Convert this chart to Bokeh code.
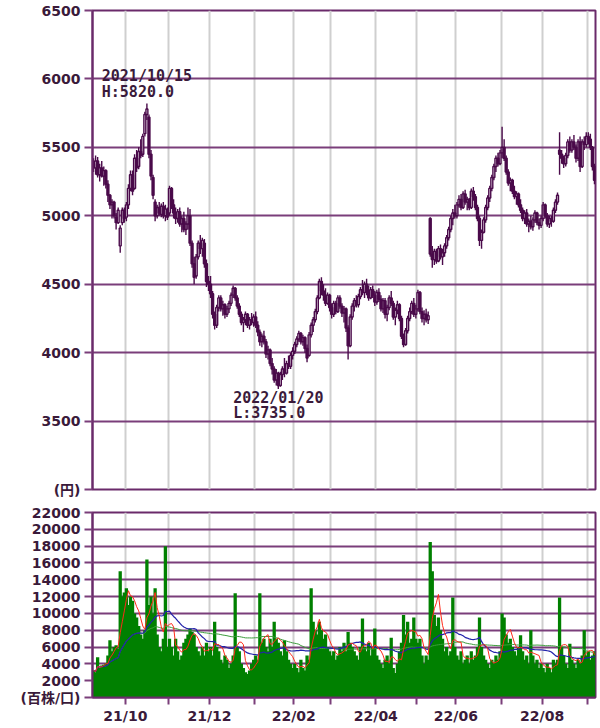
import numpy as np
import pandas as pd
from bokeh.plotting import figure
from bokeh.layouts import column
from bokeh.models import FixedTicker, ColumnDataSource, Range1d
from bokeh.core.properties import value
from bokeh.embed import file_html
from bokeh.resources import INLINE

# ---------------- data ----------------
# trading days per month shown: Sep-21 (partial), Oct-21 ... Aug-22, Sep-22 (partial)
month_days = [16, 21, 20, 22, 19, 18, 22, 20, 19, 22, 20, 22, 4]
month_labels = ["21/10", "21/11", "21/12", "22/01", "22/02", "22/03",
                "22/04", "22/05", "22/06", "22/07", "22/08", "22/09"]
shown_labels = ["21/10", "21/12", "22/02", "22/04", "22/06", "22/08"]

price_ticks = [3000, 3500, 4000, 4500, 5000, 5500, 6000, 6500]
volume_ticks = [0, 2000, 4000, 6000, 8000, 10000, 12000, 14000, 16000, 18000, 20000, 22000]

high_date = "2021/10/15"
low_date = "2022/01/20"

open_ = [
    5380, 5350, 5400, 5300, 5350, 5290, 5330, 5230, 5150, 5080, 5100, 4990, 4950, 4780, 4950, 5040,
    4990, 5080, 5200, 5300, 5200, 5420, 5360, 5470, 5450, 5600, 5740, 5720, 5450, 5280, 5100, 5000, 5060, 5010, 5070, 5000, 5040,
    5020, 5200, 5080, 5020, 4980, 5030, 4940, 4980, 4900, 4940, 5000, 4800, 4650, 4560, 4700, 4800, 4760, 4800, 4650, 4520,
    4500, 4430, 4280, 4200, 4330, 4400, 4320, 4350, 4280, 4320, 4360, 4420, 4470, 4400, 4340, 4280, 4220, 4240, 4280, 4200, 4240, 4220,
    4260, 4200, 4150, 4080, 4120, 4080, 3990, 4020, 3920, 3880, 3800, 3850, 3760, 3840, 3880, 3850, 3920, 3900, 3980,
    4010, 4060, 4100, 4140, 4080, 4110, 4030, 3980, 4130, 4200, 4240, 4300, 4400, 4520, 4450, 4420, 4360, 4420,
    4330, 4280, 4360, 4300, 4400, 4340, 4290, 4320, 4180, 4050, 4260, 4340, 4380, 4350, 4410, 4460, 4440, 4500, 4450, 4400, 4460, 4420,
    4370, 4440, 4390, 4320, 4380, 4280, 4330, 4400, 4360, 4260, 4310, 4350, 4250, 4120, 4060, 4160, 4250, 4300, 4360, 4280,
    4320, 4440, 4300, 4250, 4280, 4240, 4980, 4720, 4680, 4740, 4670, 4760, 4700, 4730, 4780, 4840, 4900, 4980, 5020,
    5000, 5080, 5120, 5060, 5160, 5100, 5120, 5060, 5180, 5140, 5060, 4980, 4820, 4880, 4970, 5060, 5130, 5200, 5280, 5360, 5420, 5380,
    5460, 5500, 5420, 5320, 5240, 5260, 5180, 5140, 5160, 5080, 5040, 4980, 5020, 4940, 4960, 4920, 4970, 5020, 4950, 4930,
    4980, 5080, 5000, 4940, 4980, 4960, 5040, 5100, 5480, 5450, 5420, 5380, 5440, 5540, 5480, 5540, 5500, 5420, 5540, 5360, 5540, 5520,
    5580, 5560, 5500, 5360,
]
high = [
    5420, 5440, 5430, 5380, 5400, 5360, 5340, 5260, 5160, 5120, 5110, 5020, 5060, 4930, 5060, 5060,
    5100, 5230, 5330, 5330, 5450, 5480, 5500, 5560, 5600, 5760, 5820, 5740, 5480, 5300, 5120, 5080, 5100, 5090, 5100, 5080, 5060,
    5220, 5210, 5120, 5060, 5050, 5060, 5000, 5030, 4960, 5060, 5050, 4820, 4700, 4720, 4820, 4860, 4840, 4830, 4680, 4560,
    4560, 4450, 4300, 4350, 4420, 4420, 4380, 4360, 4340, 4380, 4440, 4490, 4480, 4420, 4360, 4300, 4260, 4300, 4290, 4260, 4290, 4280,
    4300, 4230, 4170, 4140, 4160, 4100, 4050, 4030, 3960, 3900, 3880, 3860, 3860, 3900, 3960, 3940, 3980, 4000, 4040,
    4080, 4120, 4160, 4150, 4130, 4120, 4060, 4150, 4220, 4260, 4320, 4420, 4540, 4550, 4500, 4470, 4440, 4430,
    4360, 4380, 4380, 4420, 4420, 4360, 4340, 4330, 4200, 4280, 4360, 4400, 4420, 4430, 4480, 4530, 4520, 4540, 4490, 4480, 4490, 4450,
    4460, 4470, 4420, 4400, 4400, 4350, 4420, 4450, 4380, 4330, 4380, 4360, 4270, 4140, 4180, 4270, 4330, 4380, 4400, 4350,
    4460, 4450, 4330, 4310, 4320, 4300, 4990, 4780, 4760, 4760, 4780, 4790, 4760, 4800, 4860, 4920, 5000, 5050, 5080,
    5100, 5150, 5160, 5180, 5190, 5140, 5130, 5200, 5210, 5160, 5080, 5000, 4900, 4990, 5080, 5150, 5220, 5300, 5380, 5440, 5460, 5480,
    5650, 5560, 5440, 5340, 5280, 5270, 5220, 5180, 5170, 5120, 5060, 5040, 5050, 4980, 5000, 4990, 5040, 5030, 4980, 5000,
    5100, 5090, 5020, 5000, 5000, 5060, 5120, 5170, 5610, 5480, 5440, 5460, 5560, 5580, 5560, 5590, 5520, 5560, 5580, 5560, 5580, 5610,
    5610, 5600, 5510, 5380,
]
low = [
    5320, 5300, 5280, 5250, 5280, 5220, 5200, 5100, 5050, 4980, 4980, 4900, 4940, 4730, 4930, 4950,
    4960, 5050, 5180, 5150, 5190, 5320, 5340, 5420, 5430, 5580, 5700, 5420, 5260, 5120, 4960, 4980, 5000, 4990, 4980, 4960, 4970,
    5000, 5050, 4980, 4940, 4950, 4920, 4880, 4880, 4860, 4900, 4780, 4620, 4500, 4540, 4680, 4720, 4700, 4620, 4480, 4450,
    4400, 4250, 4170, 4180, 4300, 4300, 4270, 4250, 4260, 4290, 4340, 4400, 4380, 4320, 4260, 4200, 4150, 4200, 4180, 4170, 4200, 4190,
    4180, 4120, 4050, 4040, 4060, 3960, 3950, 3900, 3840, 3780, 3760, 3735, 3750, 3800, 3820, 3840, 3880, 3880, 3950,
    3990, 4040, 4080, 4060, 4050, 4000, 3930, 3970, 4110, 4150, 4220, 4280, 4390, 4420, 4380, 4340, 4350, 4300,
    4250, 4260, 4280, 4290, 4320, 4260, 4220, 4150, 3950, 4040, 4240, 4300, 4330, 4330, 4390, 4420, 4400, 4420, 4380, 4390, 4400, 4340,
    4350, 4370, 4300, 4290, 4250, 4230, 4310, 4340, 4240, 4200, 4280, 4230, 4100, 4040, 4050, 4140, 4230, 4280, 4260, 4250,
    4300, 4280, 4220, 4200, 4220, 4210, 4700, 4620, 4640, 4650, 4660, 4680, 4640, 4700, 4760, 4820, 4880, 4930, 4980,
    4980, 5060, 5040, 5050, 5080, 5040, 5040, 5050, 5110, 5040, 4960, 4780, 4760, 4870, 4950, 5040, 5100, 5180, 5260, 5320, 5360, 5370,
    5420, 5400, 5300, 5220, 5180, 5160, 5120, 5080, 5060, 5020, 4960, 4940, 4920, 4880, 4900, 4890, 4950, 4930, 4900, 4910,
    4960, 4980, 4920, 4910, 4920, 4950, 5020, 5080, 5300, 5380, 5350, 5360, 5420, 5460, 5460, 5480, 5390, 5400, 5320, 5350, 5480, 5500,
    5520, 5480, 5330, 5230,
]
close = [
    5350, 5400, 5300, 5350, 5290, 5330, 5230, 5150, 5080, 5100, 5000, 4950, 5040, 4910, 5040, 4980,
    5080, 5200, 5300, 5180, 5420, 5350, 5470, 5440, 5580, 5740, 5780, 5450, 5290, 5150, 5000, 5060, 5020, 5070, 5000, 5050, 4990,
    5200, 5080, 5020, 4980, 5030, 4940, 4980, 4900, 4940, 5000, 4800, 4650, 4550, 4700, 4800, 4760, 4820, 4650, 4520, 4500,
    4430, 4280, 4200, 4330, 4400, 4320, 4350, 4280, 4320, 4360, 4420, 4470, 4400, 4340, 4280, 4220, 4240, 4280, 4200, 4240, 4220, 4260,
    4200, 4150, 4080, 4120, 4080, 3990, 4020, 3920, 3880, 3800, 3850, 3760, 3840, 3880, 3850, 3920, 3900, 3980, 4010,
    4060, 4100, 4140, 4080, 4110, 4030, 3960, 4130, 4200, 4240, 4300, 4400, 4520, 4450, 4420, 4360, 4420, 4330,
    4280, 4360, 4300, 4400, 4340, 4290, 4320, 4180, 4050, 4260, 4340, 4380, 4350, 4410, 4460, 4440, 4500, 4450, 4400, 4460, 4420, 4370,
    4440, 4390, 4320, 4380, 4280, 4330, 4400, 4360, 4260, 4310, 4350, 4250, 4120, 4060, 4160, 4250, 4300, 4360, 4280, 4320,
    4440, 4300, 4250, 4280, 4240, 4270, 4720, 4680, 4740, 4670, 4760, 4700, 4730, 4780, 4840, 4900, 4980, 5020, 5000,
    5080, 5120, 5060, 5160, 5100, 5120, 5060, 5180, 5140, 5060, 4980, 4820, 4880, 4970, 5060, 5130, 5200, 5280, 5360, 5420, 5380, 5460,
    5500, 5420, 5320, 5240, 5260, 5180, 5140, 5160, 5080, 5040, 4980, 5020, 4940, 4960, 4920, 4970, 5020, 4950, 4930, 4980,
    5080, 5000, 4940, 4980, 4960, 5040, 5100, 5150, 5450, 5420, 5380, 5440, 5540, 5480, 5540, 5500, 5420, 5540, 5360, 5540, 5520, 5580,
    5560, 5500, 5360, 5260,
]
volume = [
    3200, 3000, 4800, 3500, 3800, 3900, 4000, 5000, 6800, 5500, 6000, 6200, 5800, 15000, 12000, 12500,
    13000, 11000, 12000, 11500, 10000, 9500, 8500, 7500, 7000, 8000, 16400, 11000, 12000, 10000, 13000, 7500, 6000, 5500, 7000, 18000, 6000,
    7000, 6000, 5000, 7000, 5500, 4500, 5000, 6500, 7000, 7500, 8200, 7800, 7500, 6000, 5500, 5000, 6000, 5000, 6500, 5500,
    6000, 5000, 9000, 6000, 5500, 4500, 4000, 5000, 4500, 3500, 4000, 5000, 12400, 6000, 5500, 4000, 3500, 3000, 2800, 3200, 4000, 4500,
    5000, 4500, 12400, 6500, 7000, 6000, 5500, 7000, 6000, 9000, 7000, 6500, 5500, 5000, 6800, 5500, 4500, 4000, 3500,
    4000, 3500, 3000, 4500, 3500, 3200, 5000, 4500, 13000, 9000, 8000, 7500, 9000, 8000, 7000, 7500, 6000, 5500,
    5000, 5500, 4500, 5000, 6000, 5500, 6500, 5500, 7800, 6500, 6000, 5500, 5000, 4500, 6000, 9400, 6000, 5500, 6500, 5000, 6000, 8200,
    5000, 4500, 4000, 3500, 4500, 5000, 4000, 7100, 3500, 2900, 4000, 5500, 6500, 9800, 7500, 9000, 6500, 7000, 9500, 7000,
    6500, 7000, 5000, 4000, 5000, 4500, 18500, 15000, 9800, 8500, 9500, 8000, 7000, 5500, 6000, 5000, 5500, 11900, 6000,
    5000, 4500, 5500, 4000, 4500, 5000, 4000, 5500, 4500, 5000, 6000, 9500, 6000, 5000, 4500, 4000, 3500, 4500, 4000, 5000, 4500, 5500,
    10000, 9500, 7500, 6500, 7000, 6000, 5500, 5000, 6000, 7400, 5500, 4500, 5000, 4000, 8000, 5000, 4000, 4500, 3500, 4000,
    3500, 3000, 4000, 3500, 3000, 4500, 4000, 4500, 11900, 6000, 5000, 4000, 3500, 6400, 4500, 4000, 3500, 4500, 4000, 5000, 8000, 5000,
    5500, 4500, 5000, 5500,
]

# ---------------- styling ----------------
PURPLE = "#7a3e7a"
FRAME = "#6a2a6a"
CANDLE = "#4a0a4a"
TXT = "#3a1a3a"
GRAYV = "#cfcfcf"
FONT = "DejaVu Sans, Noto Sans CJK JP"

n = len(close)
df = pd.DataFrame(dict(x=np.arange(n), o=open_, h=high, l=low, c=close, v=volume))
df["top"] = df[["o", "c"]].max(axis=1)
df["bot"] = df[["o", "c"]].min(axis=1)
df["ma5"] = df["v"].rolling(5, min_periods=1).mean()
df["ma25"] = df["v"].rolling(25, min_periods=1).mean()
df["ma75"] = df["v"].rolling(75, min_periods=1).mean()
src = ColumnDataSource(df)
up = ColumnDataSource(df[df.c >= df.o])
dn = ColumnDataSource(df[df.c < df.o])

bounds = [float(b) - 0.5 for b in np.cumsum(month_days)[:-1]]
x_over = {b: (lab if lab in shown_labels else "") for b, lab in zip(bounds, month_labels)}

xr = Range1d(-0.5, n - 0.5)


def style_frame(p):
    p.background_fill_color = "white"
    p.border_fill_color = "white"
    p.outline_line_color = FRAME
    p.outline_line_width = 2
    p.xgrid.ticker = FixedTicker(ticks=bounds)
    p.xgrid.grid_line_color = GRAYV
    p.xgrid.grid_line_width = 2
    p.ygrid.grid_line_color = PURPLE
    p.ygrid.grid_line_width = 2
    ax = p.yaxis[0]
    ax.axis_line_color = FRAME
    ax.axis_line_width = 2
    ax.major_tick_line_color = PURPLE
    ax.major_tick_line_width = 2
    ax.major_tick_out = 8
    ax.major_tick_in = 0
    ax.minor_tick_line_color = None
    ax.major_label_text_font = FONT
    ax.major_label_text_font_style = "bold"
    ax.major_label_text_font_size = "14px"
    ax.major_label_text_color = TXT
    ax.major_label_standoff = 4


# ---------------- price panel ----------------
p1 = figure(width=598, height=500, x_range=xr, y_range=Range1d(3000, 6500),
            output_backend="svg", toolbar_location=None,
            min_border_left=92, min_border_right=3, min_border_top=10, min_border_bottom=11)
style_frame(p1)
p1.xaxis.visible = False
p1.yaxis.ticker = FixedTicker(ticks=price_ticks)
p1.yaxis.major_label_overrides = {3000: "(円)"}

p1.segment(x0="x", y0="l", x1="x", y1="h", source=src, line_color=CANDLE, line_width=1.4)
p1.vbar(x="x", top="top", bottom="bot", width=0.95, source=up,
        fill_color="#f4eef4", line_color=CANDLE, line_width=1.4)
p1.vbar(x="x", top="top", bottom="bot", width=0.95, source=dn,
        fill_color=CANDLE, line_color=CANDLE, line_width=1.4)

hi_i = int(np.argmax(high))
lo_i = int(np.argmin(low))
mono = value("DejaVu Sans Mono")
fs = 15
half = -5 * 0.602 * fs
p1.text(x=[hi_i], y=[high[hi_i]], text=[high_date], text_font=mono, text_font_style="bold",
        text_font_size=f"{fs}px", text_align="center", text_baseline="middle",
        y_offset=-28, text_color=TXT)
p1.text(x=[hi_i], y=[high[hi_i]], text=[f"H:{high[hi_i]:.1f}"], text_font=mono, text_font_style="bold",
        text_font_size=f"{fs}px", text_align="left", text_baseline="middle",
        x_offset=half, y_offset=-12, text_color=TXT)
p1.text(x=[lo_i], y=[low[lo_i]], text=[low_date], text_font=mono, text_font_style="bold",
        text_font_size=f"{fs}px", text_align="center", text_baseline="middle",
        y_offset=9, text_color=TXT)
p1.text(x=[lo_i], y=[low[lo_i]], text=[f"L:{low[lo_i]:.1f}"], text_font=mono, text_font_style="bold",
        text_font_size=f"{fs}px", text_align="left", text_baseline="middle",
        x_offset=half, y_offset=24, text_color=TXT)

# ---------------- volume panel ----------------
p2 = figure(width=598, height=228, x_range=xr, y_range=Range1d(0, 22000),
            output_backend="svg", toolbar_location=None,
            min_border_left=92, min_border_right=3, min_border_top=12, min_border_bottom=31)
style_frame(p2)
p2.yaxis.ticker = FixedTicker(ticks=volume_ticks)
p2.yaxis.major_label_overrides = {0: "(百株/口)"}
xa = p2.xaxis[0]
xa.ticker = FixedTicker(ticks=bounds)
xa.major_label_overrides = x_over
xa.axis_line_color = FRAME
xa.axis_line_width = 2
xa.major_tick_line_color = PURPLE
xa.major_tick_line_width = 2
xa.major_tick_out = 7
xa.major_tick_in = 0
xa.minor_tick_line_color = None
xa.major_label_text_font = FONT
xa.major_label_text_font_style = "bold"
xa.major_label_text_font_size = "14px"
xa.major_label_text_color = TXT
xa.major_label_standoff = 3

p2.vbar(x="x", top="v", bottom=0, width=1.6, source=src, fill_color="#008000", line_color=None)
p2.line(x="x", y="ma75", source=src, line_color="#3c9c3c", line_width=1)
p2.line(x="x", y="ma25", source=src, line_color="#2222aa", line_width=1.2)
p2.line(x="x", y="ma5", source=src, line_color="#ff2a1a", line_width=1)

layout = column(p1, p2)
open("out.html", "w").write(file_html(layout, INLINE))
